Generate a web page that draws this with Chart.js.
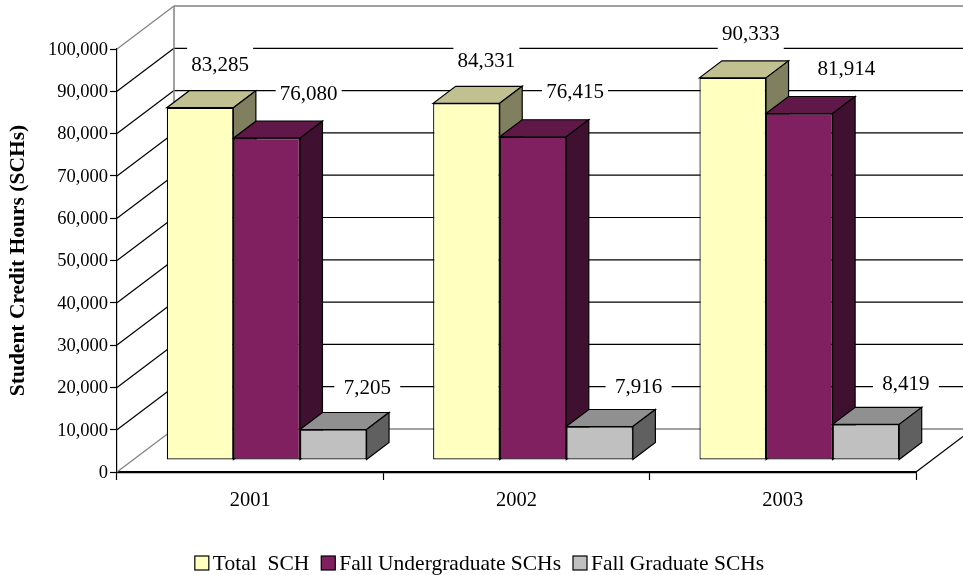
<!DOCTYPE html>
<html>
<head>
<meta charset="utf-8">
<style>html,body{margin:0;padding:0;background:#fff}canvas{display:block}</style>
<script src="https://cdn.jsdelivr.net/npm/chart.js@4"></script>
</head>
<body>
<canvas id="c" width="963" height="575"></canvas>
<script>
const years = ['2001', '2002', '2003'];
const totalSCH = [83285, 84331, 90333];
const undergradSCH = [76080, 76415, 81914];
const gradSCH = [7205, 7916, 8419];
const seriesNames = ['Total  SCH', 'Fall Undergraduate SCHs', 'Fall Graduate SCHs'];

const FONT = '"Liberation Serif", "Times New Roman", serif';
const faces = ['#FFFFC0', '#802060', '#C0C0C0'];
const tops  = ['#C0C090', '#601848', '#909090'];
const sides = ['#808060', '#401030', '#606060'];
const WALL = {dx: 57, dy: -43};     // back wall offset from the front plane
const BAR_SHIFT = {dx: 16.5, dy: -12};
const DEPTH = {dx: 22.5, dy: -17};
// label centre relative to the top-centre of each bar's front face
const labelShifts = [
  [[20, -44], [20, -43], [18, -45]],
  [[42, -45.5], [42, -46], [47, -45.5]],
  [[34, -43], [39, -40.5], [40, -41]]
];

function poly(ctx, pts, fill, stroke, w) {
  ctx.beginPath();
  pts.forEach((p, i) => i ? ctx.lineTo(p[0], p[1]) : ctx.moveTo(p[0], p[1]));
  ctx.closePath();
  if (fill) { ctx.fillStyle = fill; ctx.fill(); }
  if (stroke) { ctx.strokeStyle = stroke; ctx.lineWidth = w; ctx.stroke(); }
}
function line(ctx, x1, y1, x2, y2, color, w) {
  ctx.beginPath(); ctx.moveTo(x1, y1); ctx.lineTo(x2, y2);
  ctx.strokeStyle = color; ctx.lineWidth = w; ctx.stroke();
}

const scene3d = {
  id: 'scene3d',
  beforeDatasetsDraw(chart) {
    const {ctx, scales: {x, y}, chartArea: a} = chart;
    ctx.save();
    // back wall + side wall grid lines
    y.ticks.forEach(t => {
      const py = y.getPixelForValue(t.value);
      const edge = t.value === 0 || t.value === y.max;
      const col = edge ? '#808080' : '#000';
      line(ctx, a.left, py, a.left + WALL.dx, py + WALL.dy, col, 1.2);
      line(ctx, a.left + WALL.dx, py + WALL.dy, chart.width, py + WALL.dy, col, edge ? 1.5 : 1.2);
    });
    line(ctx, a.left + WALL.dx, y.getPixelForValue(y.max) + WALL.dy, a.left + WALL.dx, y.getPixelForValue(0) + WALL.dy, '#808080', 1.5);
    // right edge of floor
    line(ctx, a.right, a.bottom, a.right + WALL.dx, a.bottom + WALL.dy, '#000', 1.2);
    ctx.restore();

    // bars, first series first, so each one overlaps its neighbour's side face
    chart.data.datasets.forEach((ds, i) => {
      const meta = chart.getDatasetMeta(i);
      ctx.save();
      ctx.translate(BAR_SHIFT.dx, BAR_SHIFT.dy);
      meta.controller.draw();
      meta.data.forEach(bar => {
        const p = bar.getProps(['x', 'y', 'base', 'width'], true);
        const l = p.x - p.width / 2, r = p.x + p.width / 2;
        const d = DEPTH;
        poly(ctx, [[l, p.y], [r, p.y], [r + d.dx, p.y + d.dy], [l + d.dx, p.y + d.dy]], tops[i], '#000', 1.2);
        poly(ctx, [[r, p.y], [r + d.dx, p.y + d.dy], [r + d.dx, p.base + d.dy], [r, p.base]], sides[i], '#000', 1.2);
      });
      ctx.restore();
    });
    return false;
  },
  afterDraw(chart) {
    const {ctx} = chart;
    ctx.save();
    // value labels on white boxes
    ctx.textAlign = 'center';
    ctx.textBaseline = 'middle';
    ctx.font = '21px ' + FONT;
    chart.data.datasets.forEach((ds, i) => {
      chart.getDatasetMeta(i).data.forEach((bar, j) => {
        const p = bar.getProps(['x', 'y'], true);
        const cx = p.x + BAR_SHIFT.dx + labelShifts[i][j][0];
        const cy = p.y + BAR_SHIFT.dy + labelShifts[i][j][1];
        ctx.fillStyle = '#fff';
        ctx.fillRect(cx - 33, cy - 17, 66, 34);
        ctx.fillStyle = '#000';
        ctx.fillText(ds.data[j].toLocaleString('en-US'), cx, cy + 1.5);
      });
    });
    // legend
    ctx.font = '21.5px ' + FONT;
    ctx.textAlign = 'left';
    const gap = 4, box = 14, between = 12;
    const widths = seriesNames.map(n => box + gap + ctx.measureText(n).width);
    let lx = (chart.width - widths.reduce((a, b) => a + b, 0) - between * 2) / 2 - 2;
    seriesNames.forEach((n, i) => {
      ctx.fillStyle = faces[i];
      ctx.fillRect(lx, 556, box, box);
      ctx.strokeStyle = '#000';
      ctx.lineWidth = 1.2;
      ctx.strokeRect(lx, 556, box, box);
      ctx.fillStyle = '#000';
      ctx.fillText(n, lx + box + gap, 564);
      lx += widths[i] + between;
    });
    ctx.restore();
  }
};

const mk = (label, data, i) => ({
  label, data,
  backgroundColor: faces[i],
  borderColor: '#000',
  borderWidth: 1.2,
  borderSkipped: false,
  categoryPercentage: 0.75,
  barPercentage: 1
});

new Chart(document.getElementById('c'), {
  type: 'bar',
  data: {
    labels: years,
    datasets: [
      mk(seriesNames[0], totalSCH, 0),
      mk(seriesNames[1], undergradSCH, 1),
      mk(seriesNames[2], gradSCH, 2)
    ]
  },
  plugins: [scene3d],
  options: {
    responsive: false,
    animation: false,
    layout: {padding: {top: 49, right: 47, left: 0, bottom: 0}},
    plugins: {legend: {display: false}, tooltip: {enabled: false}},
    scales: {
      x: {
        afterFit(s) { s.height = 103; },
        grid: {drawOnChartArea: false, drawTicks: true, tickLength: 8, tickColor: '#000', tickWidth: 1.2},
        border: {color: '#000', width: 2.2},
        ticks: {color: '#000', font: {family: FONT, size: 20.5}, padding: 8, maxRotation: 0}
      },
      y: {
        min: 0, max: 100000,
        afterFit(s) { s.width = 117; },
        grid: {drawOnChartArea: false, tickLength: 7, tickColor: '#000', tickWidth: 1.2},
        border: {color: '#000', width: 1.2},
        ticks: {
          stepSize: 10000, color: '#000', padding: 2, labelOffset: 1,
          font: {family: FONT, size: 18.5},
          callback: v => v.toLocaleString('en-US')
        },
        title: {
          display: true, text: 'Student Credit Hours (SCHs)', color: '#000',
          font: {family: FONT, size: 21.5, weight: 'bold'},
          padding: {top: 6, bottom: 0}
        }
      }
    }
  }
});
</script>
</body>
</html>
